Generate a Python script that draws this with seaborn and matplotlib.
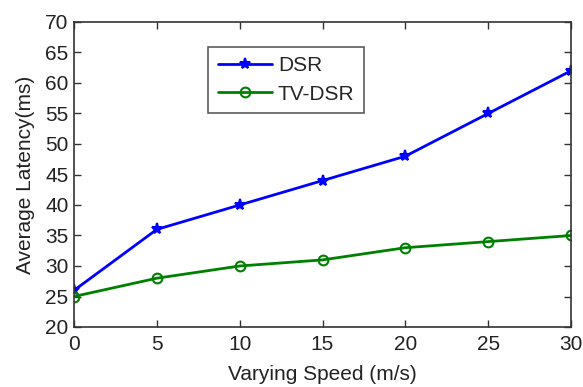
import matplotlib
matplotlib.use('Agg')
import matplotlib.pyplot as plt
import seaborn as sns
import pandas as pd

# Data
speeds = [0, 5, 10, 15, 20, 25, 30]
dsr_latency = [26, 36, 40, 44, 48, 55, 62]
tvdsr_latency = [25, 28, 30, 31, 33, 34, 35]

df = pd.DataFrame({
    'speed': speeds * 2,
    'latency': dsr_latency + tvdsr_latency,
    'protocol': ['DSR'] * len(speeds) + ['TV-DSR'] * len(speeds),
})

sns.set_style('white')
plt.rcParams['font.family'] = ['Liberation Sans', 'DejaVu Sans']
fs = 15

fig = plt.figure(figsize=(5.83, 3.87), dpi=100)
ax = fig.add_axes([74 / 583, 1 - 327 / 387, (571 - 74) / 583, (327 - 22) / 387])

sns.lineplot(data=df[df.protocol == 'DSR'], x='speed', y='latency', ax=ax,
             color='#0000ff', linewidth=2, marker='*', markersize=8,
             markeredgewidth=1.5, markeredgecolor='#0000ff', label='DSR')
sns.lineplot(data=df[df.protocol == 'TV-DSR'], x='speed', y='latency', ax=ax,
             color='#008000', linewidth=2, marker='o', markersize=7,
             markerfacecolor='none', markeredgewidth=1.5,
             markeredgecolor='#008000', label='TV-DSR')

ax.set_xlim(0, 30)
ax.set_ylim(20, 70)
ax.set_xticks(speeds)
ax.set_yticks(range(20, 71, 5))
ax.tick_params(direction='in', length=5, width=1, labelsize=fs, color='#333333',
               labelcolor='#222222', top=True, right=True, bottom=True,
               left=True)
ax.tick_params(axis='x', pad=6)
ax.tick_params(axis='y', pad=4)
for s in ax.spines.values():
    s.set_color('#333333')
    s.set_linewidth(1.2)
ax.set_xlabel('Varying Speed (m/s)', fontsize=fs, labelpad=8, color='#222222')
ax.set_ylabel('Average Latency(ms)', fontsize=fs, labelpad=7, color='#222222')

leg = ax.legend(loc='upper left', bbox_to_anchor=(0.27, 0.918), fontsize=fs,
                frameon=True, fancybox=False, edgecolor='#333333',
                handlelength=2.6, handletextpad=0.3, borderpad=0.45,
                labelspacing=0.45, borderaxespad=0)
leg.get_frame().set_linewidth(1.2)

fig.savefig('out.png', dpi=100)
